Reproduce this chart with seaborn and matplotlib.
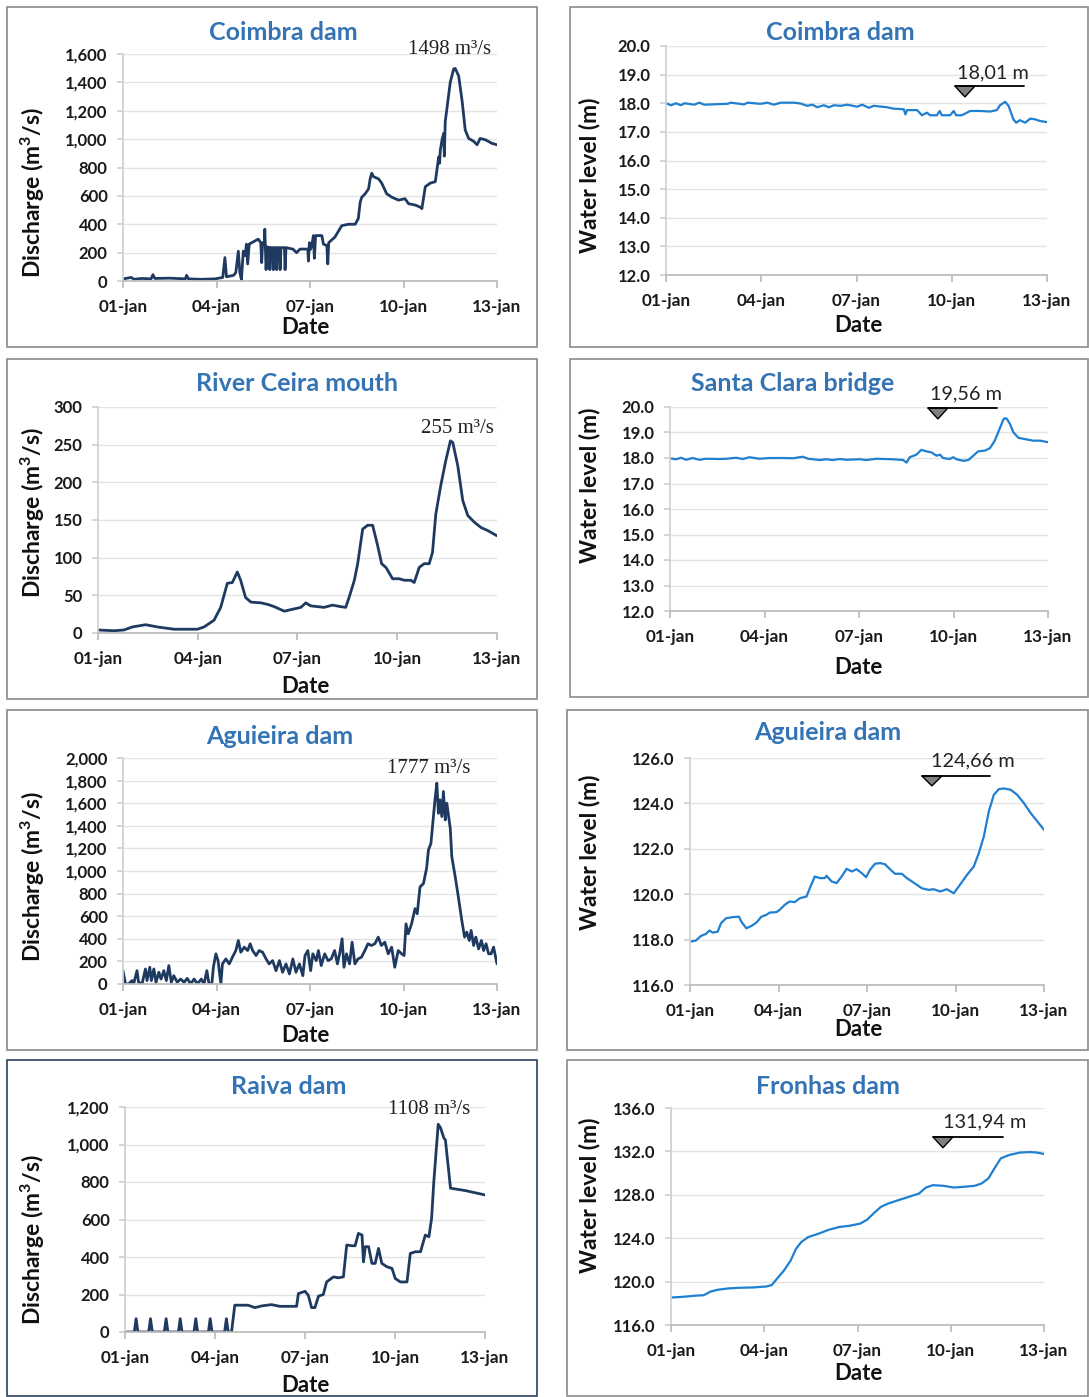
import pandas as pd
import seaborn as sns
import matplotlib.pyplot as plt
from matplotlib.patches import Rectangle, Polygon

W, H = 1089, 1397

date_ticks = [0, 3, 6, 9, 12]
date_labels = ['01-jan', '04-jan', '07-jan', '10-jan', '13-jan']

# (day since 01-jan, discharge m3/s)
coimbra_q = [(0.00, 15), (0.27, 25), (0.35, 12), (0.60, 18), (0.90, 15), (0.96, 45), (1.02, 18),
             (1.50, 20), (2.00, 15), (2.04, 40), (2.10, 15), (2.50, 12), (2.95, 15), (3.20, 25),
             (3.27, 165), (3.32, 30), (3.55, 40), (3.62, 60), (3.70, 210), (3.75, 60), (3.80, 10),
             (3.86, 210), (3.92, 180), (3.96, 260), (4.00, 120), (4.05, 260), (4.13, 270), (4.34, 295),
             (4.42, 270), (4.45, 130), (4.48, 270), (4.53, 260), (4.55, 365), (4.59, 80), (4.63, 240),
             (4.70, 235), (4.71, 80), (4.74, 235), (4.80, 235), (4.82, 80), (4.85, 235), (4.91, 235),
             (4.93, 80), (4.96, 235), (5.02, 235), (5.04, 80), (5.07, 235), (5.18, 235), (5.20, 80),
             (5.23, 235), (5.45, 225), (5.57, 200), (5.68, 225), (5.93, 225), (5.95, 140), (5.98, 270),
             (6.00, 220), (6.05, 240), (6.11, 320), (6.14, 160), (6.18, 320), (6.38, 320), (6.43, 260),
             (6.54, 250), (6.57, 120), (6.60, 270), (6.80, 310), (7.02, 390), (7.23, 400), (7.45, 400),
             (7.55, 440), (7.61, 555), (7.66, 590), (7.77, 615), (7.88, 650), (7.93, 720), (7.98, 760),
             (8.04, 735), (8.20, 720), (8.30, 690), (8.46, 615), (8.63, 590), (8.84, 570), (9.05, 580),
             (9.16, 545), (9.38, 535), (9.54, 520), (9.59, 510), (9.70, 665), (9.86, 690), (10.02, 700),
             (10.13, 875), (10.16, 830), (10.18, 920), (10.24, 1000), (10.29, 1040), (10.31, 880),
             (10.34, 1125), (10.39, 1210), (10.50, 1400), (10.61, 1495), (10.66, 1498), (10.77, 1445),
             (10.88, 1270), (10.98, 1065), (11.09, 1005), (11.25, 985), (11.36, 960), (11.46, 1005),
             (11.63, 995), (11.84, 970), (12.00, 960)]

ceira_q = [(0.00, 4), (0.48, 3), (0.78, 4), (1.03, 8), (1.43, 11), (1.79, 8), (2.29, 5), (2.99, 5),
           (3.19, 8), (3.49, 17), (3.69, 34), (3.89, 66), (4.04, 67), (4.19, 81), (4.29, 70), (4.44, 47),
           (4.60, 41), (4.90, 40), (5.10, 38), (5.30, 35), (5.60, 29), (5.80, 31), (6.10, 34), (6.25, 40),
           (6.40, 36), (6.80, 34), (7.05, 37), (7.30, 35), (7.45, 34), (7.55, 47), (7.71, 70), (7.81, 92),
           (7.96, 138), (8.11, 143), (8.26, 143), (8.41, 116), (8.53, 92), (8.66, 87), (8.86, 72),
           (9.06, 72), (9.21, 70), (9.41, 70), (9.51, 67), (9.66, 87), (9.81, 92), (9.96, 92),
           (10.06, 107), (10.16, 158), (10.31, 196), (10.46, 229), (10.60, 255), (10.67, 253),
           (10.82, 222), (10.97, 176), (11.12, 156), (11.32, 147), (11.52, 140), (11.72, 136), (12.00, 129)]

aguieira_q = [(0.00, 118), (0.08, 0), (0.18, 0), (0.29, 30), (0.34, 0), (0.45, 118), (0.50, 15), (0.61, 0),
              (0.72, 133), (0.77, 30), (0.86, 148), (0.91, 30), (0.99, 133), (1.06, 15), (1.15, 104),
              (1.22, 44), (1.31, 118), (1.39, 30), (1.47, 163), (1.55, 15), (1.63, 74), (1.74, 15),
              (1.85, 44), (1.96, 15), (2.06, 50), (2.17, 0), (2.28, 44), (2.39, 0), (2.51, 44), (2.60, 0),
              (2.69, 118), (2.76, 0), (2.85, 0), (2.90, 148), (2.98, 267), (3.05, 207), (3.14, 0),
              (3.19, 178), (3.30, 222), (3.41, 178), (3.51, 237), (3.62, 296), (3.70, 385), (3.78, 281),
              (3.89, 326), (4.00, 296), (4.08, 356), (4.16, 296), (4.27, 252), (4.37, 296), (4.48, 281),
              (4.59, 222), (4.69, 178), (4.80, 207), (4.91, 118), (5.02, 207), (5.12, 104), (5.23, 178),
              (5.34, 89), (5.45, 222), (5.55, 104), (5.66, 178), (5.77, 74), (5.84, 252), (5.93, 296),
              (6.02, 118), (6.09, 267), (6.20, 207), (6.27, 296), (6.36, 163), (6.47, 267), (6.58, 207),
              (6.68, 222), (6.79, 296), (6.88, 178), (6.95, 267), (7.03, 400), (7.09, 148), (7.17, 267),
              (7.27, 178), (7.35, 370), (7.44, 178), (7.54, 222), (7.65, 237), (7.76, 296), (7.86, 356),
              (7.97, 341), (8.08, 356), (8.19, 415), (8.29, 341), (8.40, 370), (8.51, 267), (8.62, 326),
              (8.72, 148), (8.83, 296), (8.94, 267), (9.02, 252), (9.08, 533), (9.15, 444), (9.26, 533),
              (9.37, 667), (9.44, 622), (9.53, 859), (9.64, 889), (9.74, 1022), (9.80, 1185), (9.88, 1244),
              (9.96, 1482), (10.01, 1630), (10.07, 1777), (10.12, 1511), (10.17, 1630), (10.23, 1482),
              (10.28, 1704), (10.34, 1452), (10.39, 1600), (10.50, 1378), (10.55, 1126), (10.66, 948),
              (10.76, 770), (10.87, 563), (10.96, 415), (11.03, 459), (11.11, 385), (11.17, 474),
              (11.25, 341), (11.32, 415), (11.41, 311), (11.50, 385), (11.57, 296), (11.65, 356),
              (11.73, 267), (11.81, 267), (11.89, 326), (12.00, 178)]

raiva_q = [(0.00, 0), (0.31, 0), (0.37, 71), (0.43, 0), (0.79, 0), (0.85, 71), (0.91, 0), (1.31, 0),
           (1.37, 71), (1.43, 0), (1.78, 0), (1.84, 71), (1.90, 0), (2.30, 0), (2.36, 71), (2.42, 0),
           (2.78, 0), (2.84, 71), (2.90, 0), (3.32, 0), (3.38, 71), (3.44, 0), (3.55, 0), (3.66, 143),
           (4.10, 143), (4.33, 130), (4.55, 139), (4.88, 146), (5.16, 137), (5.72, 137), (5.78, 205),
           (6.00, 217), (6.11, 196), (6.22, 130), (6.33, 130), (6.45, 191), (6.61, 200), (6.72, 267),
           (6.95, 294), (7.12, 289), (7.28, 294), (7.39, 464), (7.56, 460), (7.67, 460), (7.78, 526),
           (7.90, 517), (7.95, 374), (8.01, 455), (8.12, 455), (8.23, 366), (8.34, 366), (8.45, 446),
           (8.56, 366), (8.73, 348), (8.90, 339), (9.01, 285), (9.18, 267), (9.40, 267), (9.51, 419),
           (9.68, 428), (9.85, 428), (10.01, 517), (10.13, 508), (10.22, 606), (10.29, 793),
           (10.44, 1108), (10.52, 1088), (10.63, 1034), (10.68, 1025), (10.85, 767), (11.35, 754),
           (12.00, 731)]

# (day since 01-jan, water level m)
coimbra_h = [(0.00, 18.00), (0.16, 17.93), (0.31, 18.00), (0.47, 17.93), (0.58, 18.00), (0.89, 17.95),
             (1.05, 18.02), (1.20, 17.95), (1.94, 17.98), (2.04, 18.02), (2.46, 17.96), (2.57, 18.02),
             (2.98, 17.98), (3.19, 18.02), (3.40, 17.95), (3.61, 18.02), (4.03, 18.02), (4.24, 17.99),
             (4.45, 17.91), (4.61, 17.95), (4.76, 17.86), (4.97, 17.93), (5.13, 17.86), (5.29, 17.93),
             (5.50, 17.91), (5.71, 17.95), (6.02, 17.88), (6.18, 17.95), (6.39, 17.84), (6.54, 17.91),
             (6.96, 17.86), (7.17, 17.81), (7.49, 17.79), (7.54, 17.61), (7.59, 17.76), (7.91, 17.76),
             (8.06, 17.58), (8.22, 17.67), (8.32, 17.58), (8.53, 17.58), (8.62, 17.73), (8.69, 17.58),
             (8.95, 17.58), (9.06, 17.73), (9.14, 17.58), (9.32, 17.58), (9.58, 17.73), (9.90, 17.73),
             (10.21, 17.71), (10.42, 17.76), (10.52, 17.93), (10.68, 18.05), (10.79, 17.91),
             (10.94, 17.44), (11.03, 17.32), (11.15, 17.41), (11.31, 17.32), (11.47, 17.46),
             (11.62, 17.44), (11.78, 17.38), (12.00, 17.34)]

santaclara_h = [(0.00, 17.99), (0.19, 17.95), (0.35, 18.01), (0.51, 17.93), (0.72, 18.00), (0.93, 17.93),
                (1.14, 17.97), (1.57, 17.96), (1.78, 17.97), (2.10, 18.01), (2.31, 17.96), (2.52, 18.03),
                (2.84, 17.97), (3.16, 18.00), (3.58, 18.00), (3.90, 17.99), (4.11, 18.03), (4.22, 18.05),
                (4.38, 17.97), (4.54, 17.95), (4.75, 17.92), (4.96, 17.95), (5.17, 17.92), (5.39, 17.96),
                (5.60, 17.93), (6.02, 17.95), (6.23, 17.92), (6.55, 17.97), (7.08, 17.95), (7.40, 17.92),
                (7.51, 17.82), (7.61, 18.03), (7.82, 18.13), (7.98, 18.32), (8.14, 18.26), (8.30, 18.22),
                (8.46, 18.09), (8.57, 18.13), (8.67, 18.00), (8.88, 17.96), (8.99, 18.03), (9.10, 17.95),
                (9.31, 17.89), (9.47, 17.92), (9.63, 18.09), (9.78, 18.26), (10.00, 18.29), (10.16, 18.39),
                (10.31, 18.68), (10.42, 19.01), (10.58, 19.50), (10.63, 19.56), (10.69, 19.54),
                (10.79, 19.34), (10.90, 19.01), (11.06, 18.79), (11.27, 18.74), (11.53, 18.68),
                (11.75, 18.68), (12.00, 18.62)]

aguieira_h = [(0.00, 117.91), (0.20, 117.96), (0.37, 118.16), (0.54, 118.25), (0.66, 118.40), (0.77, 118.31),
              (0.94, 118.35), (1.05, 118.72), (1.22, 118.94), (1.45, 118.99), (1.66, 119.01), (1.74, 118.79),
              (1.91, 118.50), (2.08, 118.60), (2.25, 118.75), (2.42, 119.01), (2.59, 119.09), (2.70, 119.19),
              (2.93, 119.21), (3.04, 119.31), (3.21, 119.53), (3.38, 119.68), (3.55, 119.65), (3.72, 119.82),
              (3.95, 119.90), (4.06, 120.26), (4.23, 120.78), (4.40, 120.71), (4.57, 120.71), (4.63, 120.81),
              (4.80, 120.56), (4.97, 120.49), (5.14, 120.78), (5.31, 121.12), (5.48, 121.00), (5.65, 121.10),
              (5.82, 120.93), (5.97, 120.75), (6.10, 121.07), (6.27, 121.34), (6.44, 121.37), (6.61, 121.32),
              (6.78, 121.10), (6.95, 120.90), (7.18, 120.90), (7.35, 120.71), (7.58, 120.51), (7.86, 120.26),
              (8.09, 120.19), (8.26, 120.22), (8.48, 120.12), (8.71, 120.22), (8.94, 120.04), (9.11, 120.34),
              (9.39, 120.85), (9.62, 121.22), (9.79, 121.81), (9.96, 122.54), (10.13, 123.65), (10.30, 124.38),
              (10.47, 124.63), (10.64, 124.66), (10.87, 124.60), (11.09, 124.38), (11.32, 124.01),
              (11.55, 123.57), (11.77, 123.21), (12.00, 122.84)]

fronhas_h = [(0.00, 118.53), (0.39, 118.60), (0.73, 118.69), (1.06, 118.75), (1.28, 119.09), (1.51, 119.25),
             (1.84, 119.37), (2.18, 119.43), (2.62, 119.46), (3.07, 119.55), (3.24, 119.68), (3.40, 120.23),
             (3.63, 121.01), (3.85, 121.94), (4.02, 123.02), (4.19, 123.64), (4.41, 124.10), (4.74, 124.41),
             (5.08, 124.78), (5.41, 125.03), (5.75, 125.15), (6.08, 125.34), (6.31, 125.71), (6.53, 126.32),
             (6.75, 126.88), (6.98, 127.19), (7.31, 127.50), (7.65, 127.81), (7.98, 128.12), (8.20, 128.67),
             (8.43, 128.89), (8.76, 128.83), (9.10, 128.67), (9.43, 128.74), (9.77, 128.83), (9.99, 129.04),
             (10.21, 129.51), (10.44, 130.59), (10.61, 131.36), (10.88, 131.67), (11.22, 131.89),
             (11.55, 131.94), (11.78, 131.89), (12.00, 131.76)]

sns.set_theme(style="white")
plt.rcParams['font.family'] = ['Lato', 'DejaVu Sans']
plt.rcParams['mathtext.fontset'] = 'custom'
plt.rcParams['mathtext.rm'] = 'Lato'
plt.rcParams['mathtext.bf'] = 'Lato:bold'
plt.rcParams['mathtext.default'] = 'bf'

fig = plt.figure(figsize=(W / 100, H / 100), dpi=100)
fig.patch.set_facecolor('white')

TITLE_C = '#3474B4'
DARK = '#1F3A60'
BLUE = '#1F7FD0'


def fx(x):
    return x / W


def fy(y):
    return 1 - y / H


def panel(box, rect, series, color, lw, ylim, yticks, fmt, title, title_xy, ylab, ylab_xy, xlab_xy,
          box_color='#8a8a8a'):
    x0, y0, x1, y1 = box
    fig.add_artist(Rectangle((fx(x0), fy(y1)), fx(x1 - x0), (y1 - y0) / H, transform=fig.transFigure,
                             fill=False, edgecolor=box_color, lw=1.2))
    l, r, t, b = rect
    ax = fig.add_axes([fx(l), fy(b), fx(r - l), (b - t) / H])
    df = pd.DataFrame(series, columns=['day', 'val'])
    sns.lineplot(data=df, x='day', y='val', ax=ax, color=color, lw=lw, sort=False, estimator=None)
    ax.set_xlim(0, 12)
    ax.set_ylim(*ylim)
    ax.set_xticks(date_ticks, labels=date_labels, fontweight='bold', fontsize=12.3, color='#1a1a1a')
    ax.set_yticks(yticks, labels=[fmt(v) for v in yticks], fontweight='bold', fontsize=12, color='#1a1a1a')
    ax.set_xlabel('')
    ax.set_ylabel('')
    ax.grid(axis='y', color='#e4e4e4', lw=1)
    ax.set_axisbelow(True)
    for s in ['top', 'right']:
        ax.spines[s].set_visible(False)
    ax.spines['left'].set_color('#d0d0d0')
    ax.spines['bottom'].set_color('#bcbcbc')
    ax.tick_params(axis='x', direction='out', length=5, color='#bcbcbc', pad=8, bottom=True)
    ax.tick_params(axis='y', direction='out', length=4, color='#d0d0d0', pad=7, left=True)
    fig.text(fx(title_xy[0]), fy(title_xy[1]), title, ha='center', va='center', fontsize=18,
             fontweight='bold', color=TITLE_C)
    fig.text(fx(ylab_xy[0]), fy(ylab_xy[1]), ylab, ha='center', va='center', rotation=90,
             fontsize=16.5, fontweight='bold', color='#111111')
    fig.text(fx(xlab_xy[0]), fy(xlab_xy[1]), 'Date', ha='center', va='center',
             fontsize=16, fontweight='bold', color='#111111')
    return ax


def qfmt(v):
    return f'{v:,.0f}'


def hfmt(v):
    return f'{v:.1f}'


def peak_q(ax, x, y, txt):
    ax.text(x, y, txt, ha='center', va='center', fontsize=15, family='Liberation Serif',
            color='#222222', clip_on=False)


def peak_h(ax, tx, ty, lx0, lx1, ly, tri_w, tri_h, txt):
    ax.text(tx, ty, txt, ha='center', va='center', fontsize=14.3, color='#222222', clip_on=False)
    ax.plot([lx0, lx1], [ly, ly], color='black', lw=1.3, clip_on=False)
    ax.add_patch(Polygon([(lx0, ly), (lx0 + tri_w, ly), (lx0 + tri_w / 2, ly - tri_h)], closed=True,
                         facecolor='#808080', edgecolor='black', lw=1, clip_on=False))


ylab_q = r'Discharge (m$^{3}$/s)'
ylab_h = 'Water level (m)'

ax1 = panel((7, 7, 537, 347), (123, 497, 54, 281), coimbra_q, DARK, 2.0, (0, 1600),
            list(range(0, 1601, 200)), qfmt, 'Coimbra dam', (283, 33), ylab_q, (33, 193), (305, 328))
peak_q(ax1, 10.49, 1635, '1498 m³/s')

ax2 = panel((570, 7, 1088, 347), (666, 1047, 46, 275), coimbra_h, BLUE, 1.6, (12, 20),
            list(range(12, 21)), hfmt, 'Coimbra dam', (840, 32), ylab_h, (590, 175), (858, 325))
peak_h(ax2, 10.30, 19.06, 9.10, 11.28, 18.60, 0.63, 0.38, '18,01 m')

ax3 = panel((7, 359, 537, 699), (98, 497, 407, 633), ceira_q, DARK, 2.0, (0, 300),
            list(range(0, 301, 50)), qfmt, 'River Ceira mouth', (297, 383), ylab_q, (33, 513), (305, 687))
peak_q(ax3, 10.80, 272, '255 m³/s')

ax4 = panel((570, 359, 1088, 697), (670, 1048, 407, 611), santaclara_h, BLUE, 1.6, (12, 20),
            list(range(12, 21)), hfmt, 'Santa Clara bridge', (793, 383), ylab_h, (590, 485), (858, 667))
peak_h(ax4, 9.40, 20.51, 8.19, 10.38, 19.96, 0.63, 0.43, '19,56 m')

ax5 = panel((7, 710, 537, 1050), (123, 497, 758, 984), aguieira_q, DARK, 2.0, (0, 2000),
            list(range(0, 2001, 200)), qfmt, 'Aguieira dam', (280, 736), ylab_q, (33, 877), (305, 1036))
peak_q(ax5, 9.82, 1903, '1777 m³/s')

ax6 = panel((567, 710, 1088, 1050), (690, 1044, 758, 985), aguieira_h, BLUE, 1.6, (116, 126),
            list(range(116, 127, 2)), hfmt, 'Aguieira dam', (828, 733), ylab_h, (590, 852), (858, 1030))
peak_h(ax6, 9.59, 125.87, 7.86, 10.17, 125.21, 0.68, 0.44, '124,66 m')

ax7 = panel((7, 1060, 537, 1396), (125, 485, 1107, 1332), raiva_q, DARK, 2.0, (0, 1200),
            list(range(0, 1201, 200)), qfmt, 'Raiva dam', (289, 1087), ylab_q, (33, 1240), (305, 1385),
            box_color='#2B3F5C')
peak_q(ax7, 10.13, 1184, '1108 m³/s')

ax8 = panel((567, 1060, 1088, 1396), (671, 1044, 1108, 1325), fronhas_h, BLUE, 1.6, (116, 136),
            list(range(116, 137, 4)), hfmt, 'Fronhas dam', (828, 1087), ylab_h, (590, 1195), (858, 1374))
peak_h(ax8, 10.09, 134.71, 8.43, 10.68, 133.33, 0.64, 1.0, '131,94 m')

fig.savefig('out.png', dpi=100, facecolor='white')
